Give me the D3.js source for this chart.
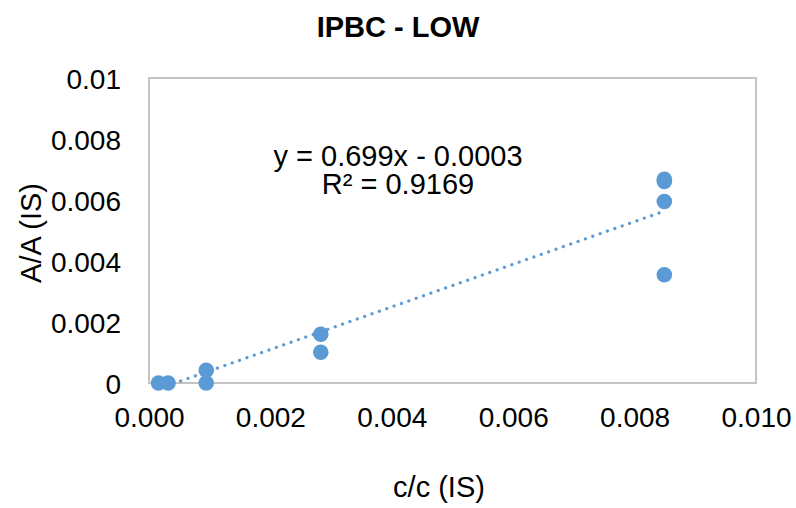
<!DOCTYPE html>
<html>
<head>
<meta charset="utf-8">
<script src="https://cdn.jsdelivr.net/npm/d3@7"></script>
<style>
  body { margin: 0; background: #fff; }
  text { font-family: "Liberation Sans", Arial, sans-serif; fill: #000; }
</style>
</head>
<body>
<svg class="s"></svg>
<script>
// data
var xVals = [0.000157, 0.000314, 0.000943, 0.000943, 0.00283, 0.00283, 0.00849, 0.00849, 0.00849, 0.00849];
var yVals = [0, 0, 0.00042, 0, 0.0016, 0.00101, 0.00668, 0.00661, 0.00595, 0.00355];
var xTicks = [0, 0.002, 0.004, 0.006, 0.008, 0.010];
var xTickLabels = ['0.000', '0.002', '0.004', '0.006', '0.008', '0.010'];
var yTicks = [0, 0.002, 0.004, 0.006, 0.008, 0.01];
var yTickLabels = ['0', '0.002', '0.004', '0.006', '0.008', '0.01'];
var slope = 0.699;
var intercept = -0.0003;
var eqLines = ['y = 0.699x - 0.0003', 'R\u00b2 = 0.9169'];

var w = 796;
var h = 508;
var pLeft = 149, pRight = 756, pTop = 78, pBottom = 383;
var blue = '#5b9bd5';

var svg = d3.select('.s')
            .attr('width', w)
            .attr('height', h);

var x = d3.scaleLinear().domain([0, 0.01]).range([pLeft, pRight]);
var y = d3.scaleLinear().domain([0, 0.01]).range([pBottom, pTop]);

// plot area border
svg.append('rect')
   .attr('x', pLeft)
   .attr('y', pTop)
   .attr('width', pRight - pLeft)
   .attr('height', pBottom - pTop)
   .attr('fill', 'none')
   .attr('stroke', '#c4c4c4')
   .attr('stroke-width', 2);

svg.append('clipPath')
   .attr('id', 'plotclip')
   .append('rect')
   .attr('x', pLeft)
   .attr('y', pTop)
   .attr('width', pRight - pLeft)
   .attr('height', pBottom - pTop);

// y axis ticks
var yAxis = svg.append('g')
               .attr('transform', 'translate(' + pLeft + ',0)')
               .call(d3.axisLeft(y).tickValues(yTicks).tickSize(0).tickPadding(28)
                     .tickFormat(function(d, i){ return yTickLabels[i]; }));
yAxis.select('.domain').remove();
yAxis.selectAll('text')
     .attr('font-size', 28)
     .attr('font-family', '"Liberation Sans", Arial, sans-serif')
     .attr('fill', '#000')
     .attr('dy', '0.36em');

// x axis ticks
var xAxis = svg.append('g')
               .attr('transform', 'translate(0,' + pBottom + ')')
               .call(d3.axisBottom(x).tickValues(xTicks).tickSize(0).tickPadding(24)
                     .tickFormat(function(d, i){ return xTickLabels[i]; }));
xAxis.select('.domain').remove();
xAxis.selectAll('text')
     .attr('font-size', 28)
     .attr('font-family', '"Liberation Sans", Arial, sans-serif')
     .attr('fill', '#000');

// linear trendline (dotted), clipped to plot area
var xMin = d3.min(xVals), xMax = d3.max(xVals);
svg.append('line')
   .attr('clip-path', 'url(#plotclip)')
   .attr('x1', x(xMin))
   .attr('y1', y(slope * xMin + intercept))
   .attr('x2', x(xMax))
   .attr('y2', y(slope * xMax + intercept))
   .attr('stroke', blue)
   .attr('stroke-width', 3.2)
   .attr('stroke-linecap', 'round')
   .attr('stroke-dasharray', '0.1 7.7');

// points
svg.append('g')
   .selectAll('circle')
   .data(xVals)
   .enter()
   .append('circle')
   .attr('cx', function(d){ return x(d); })
   .attr('cy', function(d, i){ return y(yVals[i]); })
   .attr('r', 7.8)
   .attr('fill', blue);

// title
svg.append('text')
   .attr('x', 398)
   .attr('y', 37)
   .attr('text-anchor', 'middle')
   .attr('font-size', 29)
   .attr('font-weight', 'bold')
   .text('IPBC - LOW');

// equation label
svg.append('g')
   .selectAll('text')
   .data(eqLines)
   .enter()
   .append('text')
   .attr('x', 398)
   .attr('y', function(d, i){ return 166 + i * 28; })
   .attr('text-anchor', 'middle')
   .attr('font-size', 29)
   .text(function(d){ return d; });

// axis titles
svg.append('text')
   .attr('x', 439)
   .attr('y', 497)
   .attr('text-anchor', 'middle')
   .attr('font-size', 29)
   .text('c/c (IS)');

svg.append('text')
   .attr('transform', 'translate(41,233) rotate(-90)')
   .attr('text-anchor', 'middle')
   .attr('font-size', 29)
   .text('A/A (IS)');
</script>
</body>
</html>
